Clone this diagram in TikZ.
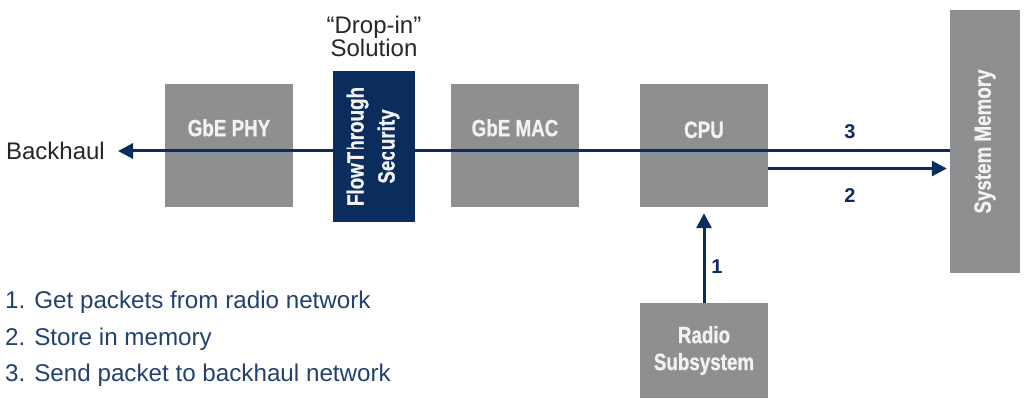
\documentclass[tikz,border=0pt]{standalone}
\usepackage{fontspec}
\setmainfont{Liberation Sans}
\newfontfamily\condfont[FakeStretch=0.80, BoldFeatures={FakeBold=0.8}]{Liberation Sans}
\usetikzlibrary{arrows.meta}
\definecolor{boxgray}{HTML}{8E8F91}
\definecolor{navy}{HTML}{0B2D5E}
\definecolor{listblue}{HTML}{22416F}
\definecolor{labwhite}{HTML}{F2F2F2}
\tikzset{
  gbox/.style={fill=boxgray, draw=none, text=labwhite, font=\condfont\bfseries\fontsize{23.5}{27}\selectfont, align=center, inner sep=0pt},
  nbox/.style={gbox, fill=navy},
  flow/.style={draw=navy, line width=3pt, -{Triangle[length=15pt,width=15pt]}},
  num/.style={text=navy, font=\bfseries\fontsize{20}{22}\selectfont, inner sep=0pt},
  plain/.style={text=black!85, font=\fontsize{24}{23}\selectfont, inner sep=0pt},
  listitem/.style={text=listblue, font=\fontsize{24.2}{26}\selectfont, inner sep=0pt, anchor=west}
}
\begin{document}
\begin{tikzpicture}[x=1pt,y=-1pt]
\useasboundingbox (0,0) rectangle (1036,401);
% boxes
\node[gbox, minimum width=128pt, minimum height=123pt] (phy) at (229,145.5) {};
\node[gbox] (phyl) at ([yshift=-44pt]phy.north) {GbE PHY};
\node[gbox, minimum width=128pt, minimum height=123pt] (mac) at (515,145.5) {};
\node[gbox] (macl) at ([yshift=-44pt]mac.north) {GbE MAC};
\node[gbox, minimum width=128pt, minimum height=123pt] (cpu) at (704,145.5) {};
\node[gbox] (cpul) at ([yshift=-46pt]cpu.north) {CPU};
\node[nbox, minimum width=82pt, minimum height=151pt] (fts) at (374,146.5) {};
\node[nbox, rotate=90, font=\condfont\bfseries\fontsize{23.5}{31}\selectfont] (ftsl) at ([xshift=-1pt]fts.center) {FlowThrough\\Security};
\node[gbox, minimum width=70pt, minimum height=263pt] (mem) at (985,141.5) {};
\node[gbox, rotate=90] (meml) at (mem.center) {System Memory};
\node[gbox, minimum width=128pt, minimum height=95pt] (radio) at (704,350.5) {};
\node[gbox] (radiol) at (radio.center) {Radio\\Subsystem};
% labels
\node[plain, anchor=east] (bh) at (105,151) {Backhaul};
\node[plain, align=center] (drop) at (374,36.5) {``Drop-in''\\Solution};
% connectors
\coordinate (m3) at (mem.west |- 0,151);
\coordinate (bhtip) at ([xshift=13pt]bh.east);
\draw[flow] (m3) -- (bhtip);
\coordinate (c2) at ([yshift=-23pt]cpu.east);
\coordinate (m2) at ([xshift=-3pt]c2 -| mem.west);
\draw[flow] (c2) -- (m2);
\coordinate (cpuin) at ([yshift=-6pt]cpu.south);
\draw[flow] (radio.north) -- (cpuin);
\node[num] (n3) at (850,132) {3};
\node[num] (n2) at (850,196) {2};
\node[num] (n1) at (717,267) {1};
% list
\node[listitem] (l1) at (5,302) {1. Get packets from radio network};
\node[listitem] (l2) at (5,339) {2. Store in memory};
\node[listitem] (l3) at (5,375) {3. Send packet to backhaul network};
\end{tikzpicture}
\end{document}
